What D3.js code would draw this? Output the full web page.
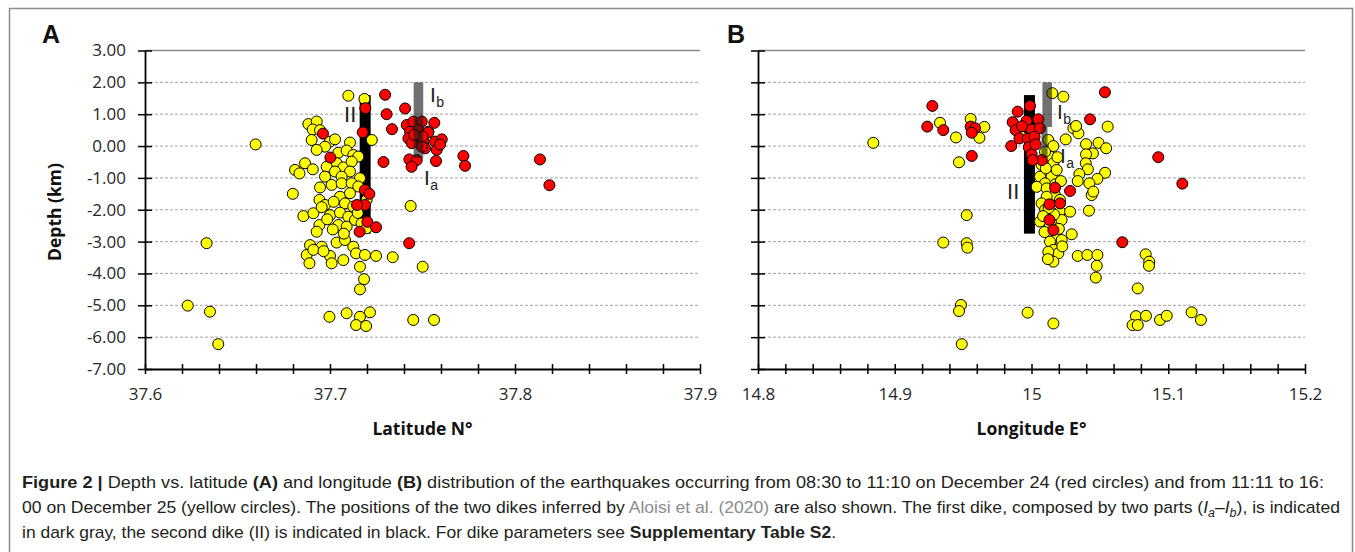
<!DOCTYPE html>
<html><head><meta charset="utf-8">
<script src="https://cdn.jsdelivr.net/npm/d3@7"></script>
<style>body{margin:0;background:#fff;overflow:hidden}</style>
</head><body>
<script>
// ---------- data ----------
const depthTicks = [3, 2, 1, 0, -1, -2, -3, -4, -5, -6, -7];
const latTicks = [37.6, 37.7, 37.8, 37.9];
const lonTicks = [14.8, 14.9, 15.0, 15.1, 15.2];

// Panel A: [latitude, depth]
const redA = [
 [37.7298,1.61],[37.7306,1.00],[37.7406,1.18],[37.7191,1.19],[37.7177,0.43],[37.7335,0.53],[37.6962,0.39],
 [37.7002,-0.36],[37.7289,-0.50],[37.7721,-0.31],[37.7730,-0.62],[37.8135,-0.42],[37.8186,-1.23],
 [37.7189,-1.38],[37.7213,-1.50],[37.7189,-1.85],[37.7146,-1.85],[37.7202,-2.38],[37.7160,-2.69],[37.7249,-2.55],[37.7428,-3.05],
 [37.7415,0.66],[37.7451,0.77],[37.7496,0.77],[37.7564,0.73],[37.7433,0.45],[37.7478,0.50],[37.7532,0.45],
 [37.7424,0.24],[37.7469,0.19],[37.7505,0.14],[37.7568,0.14],[37.7604,0.21],[37.7577,-0.12],[37.7514,-0.07],
 [37.7442,0.09],[37.7496,-0.02],[37.7429,-0.42],[37.7469,-0.44],[37.7441,-0.65],[37.7573,-0.47],[37.7531,0.43],
 [37.7501,0.30],[37.7455,0.35],[37.7595,0.05]
];
const yellowA = [
 [37.6598,0.05],[37.6333,-3.05],[37.6231,-5.01],[37.6351,-5.20],[37.6396,-6.22],
 [37.7099,1.58],[37.7186,1.48],
 [37.6883,0.69],[37.6928,0.77],[37.6907,0.52],[37.6946,0.50],
 [37.7226,0.19],[37.6901,0.19],[37.7000,0.14],[37.7027,0.21],[37.7108,0.11],[37.6973,-0.02],[37.6928,-0.12],
 [37.7045,-0.21],[37.7090,-0.14],[37.7126,-0.28],[37.7153,-0.33],
 [37.6865,-0.54],[37.6907,-0.73],[37.6811,-0.75],[37.6835,-0.86],[37.7036,-0.54],[37.7072,-0.67],[37.7117,-0.49],
 [37.6982,-0.65],[37.7027,-0.80],[37.7108,-0.80],[37.7063,-0.96],[37.7162,-1.01],[37.6973,-0.96],
 [37.6946,-1.30],[37.7009,-1.22],[37.7063,-1.17],[37.7117,-1.17],[37.7153,-1.27],[37.6799,-1.50],
 [37.6943,-1.69],[37.6973,-1.85],[37.7054,-1.59],[37.7108,-1.48],[37.7081,-1.80],[37.7126,-1.90],[37.7198,-1.69],
 [37.6856,-2.20],[37.6910,-2.11],[37.7000,-2.17],[37.7054,-2.09],[37.7099,-2.22],[37.6943,-2.48],[37.6928,-2.69],
 [37.7045,-2.48],[37.7090,-2.53],[37.7135,-2.32],[37.7171,-2.43],[37.7198,-2.58],
 [37.7436,-1.88],
 [37.6892,-3.11],[37.6955,-3.16],[37.6874,-3.42],[37.6910,-3.26],[37.7000,-3.45],[37.7036,-3.03],[37.7081,-2.95],
 [37.7126,-3.16],[37.7009,-3.68],[37.6889,-3.68],[37.7072,-3.58],[37.7141,-3.37],[37.7189,-3.42],[37.7249,-3.45],
 [37.7339,-3.49],[37.7162,-3.79],[37.7501,-3.79],[37.7184,-4.18],[37.7162,-4.50],
 [37.6997,-5.36],[37.7090,-5.25],[37.7162,-5.36],[37.7216,-5.22],[37.7141,-5.62],[37.7195,-5.65],[37.7450,-5.46],[37.7562,-5.46],
 [37.6955,-1.92],[37.7020,-1.75],[37.6985,-2.30],[37.7075,-2.75],[37.7150,-2.10],[37.7015,-2.62],[37.6965,-3.30]
];

// Panel B: [longitude, depth]
const redB = [
 [14.9275,1.26],[14.9238,0.61],[14.9355,0.50],[14.9563,-0.31],[14.9555,0.61],[14.9587,0.56],[14.9563,0.42],
 [14.9989,1.26],[14.9899,1.08],[14.9862,0.75],[14.9964,0.79],[15.0050,0.84],[14.9884,0.50],[15.0001,0.52],
 [15.0062,0.56],[14.9852,0.00],[14.9912,0.24],[14.9973,0.24],[15.0022,0.29],[14.9980,-0.04],[15.0001,-0.26],
 [15.0075,-0.44],[15.0008,-0.44],[14.9930,0.62],[15.0030,0.05],
 [15.0172,-1.31],[15.0282,-1.41],[15.0131,-1.83],[15.0209,-1.80],[15.0131,-2.32],[15.0160,-2.64],
 [15.0537,1.69],[15.0428,0.84],[15.0927,-0.35],[15.1103,-1.18],[15.0664,-3.02]
];
const yellowB = [
 [14.8843,0.10],[14.9331,0.73],[14.9448,0.27],[14.9470,-0.51],[14.9555,0.85],[14.9655,0.60],[14.9619,0.26],
 [14.9526,-2.17],[14.9355,-3.03],[14.9526,-3.05],[14.9531,-3.19],[14.9484,-4.99],[14.9470,-5.18],[14.9972,-5.23],[14.9490,-6.22],
 [15.0440,-1.54],[15.0420,-2.03],[15.0835,-3.40],[15.0861,-3.63],[15.0859,-3.76],[15.0338,-3.45],[15.0408,-3.42],
 [15.0482,-3.42],[15.0477,-3.76],[15.0470,-4.13],[15.0777,-4.47],[15.0160,-5.57],[15.0764,-5.34],[15.0837,-5.33],
 [15.0739,-5.62],[15.0777,-5.62],[15.0940,-5.46],[15.0989,-5.33],[15.1171,-5.22],[15.1239,-5.46],[15.0294,-2.77],
 [15.0152,1.66],[15.0233,1.55],[15.0306,0.56],[15.0343,0.40],[15.0326,0.63],[15.0250,0.21],[15.0557,0.61],
 [15.0399,0.06],[15.0490,0.10],[15.0546,-0.07],[15.0449,-0.23],[15.0399,-0.26],[15.0397,-0.54],[15.0412,-0.73],
 [15.0538,-0.84],[15.0482,-1.03],[15.0423,-1.17],[15.0350,-0.88],[15.0338,-1.10],[15.0452,-1.43],
 [15.0123,0.19],[15.0160,0.00],[15.0135,-0.33],[15.0099,-0.18],[15.0074,-0.59],[15.0160,-0.54],[15.0123,-0.86],
 [15.0062,-0.96],[15.0147,-0.96],[15.0184,-0.75],[15.0099,-1.17],[15.0038,-1.28],[15.0111,-1.33],[15.0172,-1.54],
 [15.0111,-1.59],[15.0074,-1.80],[15.0208,-1.69],[15.0208,-2.06],[15.0184,-2.32],[15.0135,-2.48],[15.0062,-2.37],
 [15.0220,-2.32],[15.0184,-2.90],[15.0135,-3.00],[15.0160,-3.26],[15.0196,-3.37],[15.0123,-3.32],[15.0160,-3.63],
 [15.0221,-2.95],[15.0282,-2.06],[14.9925,0.30],
 [15.0100,-2.00],[15.0165,-2.15],[15.0095,-2.70],[15.0200,-2.60],[15.0125,-1.95],[15.0085,-2.20],[15.0175,-1.20],
 [15.0215,-1.10],[15.0105,-0.70],[15.0190,-0.35],[15.0120,-3.55],[15.0225,-3.15]
];

// Dikes: name, latitude, longitude, top depth, bottom depth
const dikeNames = ["Ib", "Ia", "II"];
const dikeLat = [37.7478, 37.7478, 37.7190];
const dikeLon = [15.0115, 15.0095, 14.9985];
const dikeTop = [2.0, 0.6, 1.6];
const dikeBottom = [0.6, -0.38, -2.75];

// Dike labels: [main, subscript, coordinate, depth]
const labelsA = [["II","",37.7076,0.76],["I","b",37.7540,1.38],["I","a",37.7508,-1.22]];
const labelsB = [["II","",14.9821,-1.66],["I","b",15.0186,0.85],["I","a",15.0208,-0.53]];

// ---------- drawing ----------
const W = 1355, H = 552;
const TICKFONT = "'Open Sans', sans-serif";
const svg = d3.select("body").append("svg").attr("width", W).attr("height", H);

svg.append("rect").attr("x", 9.5).attr("y", 8.5).attr("width", 1343).attr("height", 600)
  .attr("fill", "none").attr("stroke", "#8a8a8a").attr("stroke-width", 1.5);

const y = d3.scaleLinear().domain([-7, 3]).range([369, 50.5]);

function panel(cfg) {
  const x = d3.scaleLinear().domain(cfg.domain).range(cfg.range);
  const g = svg.append("g");
  const [x0, x1] = cfg.range;

  g.selectAll("line.grid").data(depthTicks.filter(d => d > -7)).join("line")
    .attr("x1", x0).attr("x2", x1)
    .attr("y1", d => y(d)).attr("y2", d => y(d))
    .attr("stroke", d => d === 3 ? "#8c8c8c" : "#a3a3a3")
    .attr("stroke-width", d => d === 3 ? 1.6 : 1)
    .attr("stroke-dasharray", d => d === 3 ? null : "3,2");

  const dk = dikeNames.map((n, i) => ({n, c: cfg.dikeCoord[i], t: dikeTop[i], b: dikeBottom[i]}));
  g.selectAll("rect.black").data(dk.filter(d => d.n === "II")).join("rect")
    .attr("x", d => x(d.c) - 5.5).attr("width", 11)
    .attr("y", d => y(d.t)).attr("height", d => y(d.b) - y(d.t))
    .attr("fill", "#000");

  g.selectAll("circle.y").data(cfg.yellow).join("circle")
    .attr("cx", d => x(d[0])).attr("cy", d => y(d[1])).attr("r", 5.5)
    .attr("fill", "#ffff00").attr("stroke", "#000").attr("stroke-width", 1);
  g.selectAll("circle.r").data(cfg.red).join("circle")
    .attr("cx", d => x(d[0])).attr("cy", d => y(d[1])).attr("r", 5.5)
    .attr("fill", "#ff0000").attr("stroke", "#000").attr("stroke-width", 1);

  g.selectAll("rect.gray").data(dk.filter(d => d.n !== "II")).join("rect")
    .attr("x", d => x(d.c) - (d.n === "Ia" && cfg.narrowIa ? 3 : 4.8))
    .attr("width", d => d.n === "Ia" && cfg.narrowIa ? 6 : 9.6)
    .attr("y", d => y(d.t)).attr("height", d => y(d.b) - y(d.t))
    .attr("fill", "#1a1a1a").attr("fill-opacity", 0.62);

  cfg.labels.forEach(l => {
    const t = g.append("text").attr("x", x(l[2])).attr("y", y(l[3]))
      .attr("font-family", "'Liberation Sans', Arial, sans-serif")
      .attr("font-size", l[0] === "II" ? 22 : 21).attr("fill", "#222");
    t.append("tspan").text(l[0]);
    if (l[1]) t.append("tspan").attr("dy", 5).attr("dx", 0.5).attr("font-size", 14).text(l[1]);
  });

  const ya = d3.axisLeft(y).tickValues(depthTicks).tickSizeInner(7).tickSizeOuter(0).tickPadding(12)
    .tickFormat(d => cfg.yLabels ? d.toFixed(2) : "");
  const yg = g.append("g").attr("transform", `translate(${x0},0)`).call(ya);
  yg.selectAll(".tick line").attr("x1", 7).attr("stroke-width", 1.5);
  yg.select(".domain").attr("stroke-width", 1.8);
  yg.selectAll("text").attr("font-family", TICKFONT).attr("font-size", 17).attr("fill", "#262626");

  const minor = x.ticks(cfg.nMinor);
  const xa = d3.axisBottom(x).tickValues(minor).tickSizeInner(5).tickSizeOuter(0).tickPadding(14)
    .tickFormat(d => cfg.majors.some(m => Math.abs(m - d) < 1e-9) ? String(+d.toFixed(1)) : "");
  const xg = g.append("g").attr("transform", `translate(0,${y(-7)})`).call(xa);
  xg.selectAll(".tick line").attr("y1", -5).attr("stroke-width", 1.5);
  xg.select(".domain").attr("stroke-width", 1.8);
  xg.selectAll("text").attr("font-family", TICKFONT).attr("font-size", 17).attr("fill", "#262626");

  g.append("text").attr("x", (x0 + x1) / 2).attr("y", 435).attr("text-anchor", "middle")
    .attr("font-family", TICKFONT).attr("font-weight", "bold").attr("font-size", 17.5)
    .attr("fill", "#111").text(cfg.title);

  g.append("text").attr("x", cfg.letterX).attr("y", 43)
    .attr("font-family", "'Liberation Sans', Arial, sans-serif").attr("font-weight", "bold")
    .attr("font-size", 25).attr("fill", "#111").text(cfg.letter);
}

panel({domain: [37.6, 37.9], range: [145, 700], red: redA, yellow: yellowA, dikeCoord: dikeLat,
  labels: labelsA, yLabels: true, nMinor: 15, majors: latTicks, title: "Latitude N°", letter: "A", letterX: 42, narrowIa: false});
panel({domain: [14.8, 15.2], range: [758, 1305], red: redB, yellow: yellowB, dikeCoord: dikeLon,
  labels: labelsB, yLabels: false, nMinor: 20, majors: lonTicks, title: "Longitude E°", letter: "B", letterX: 727, narrowIa: true});

svg.append("text").attr("transform", "translate(61,212) rotate(-90)").attr("text-anchor", "middle")
  .attr("font-family", TICKFONT).attr("font-weight", "bold").attr("font-size", 17.5)
  .attr("fill", "#111").text("Depth (km)");

// ---------- caption ----------
const CAP = "'Liberation Sans Narrow', 'Liberation Sans', Arial, sans-serif";
const capLines = [
  {y: 488, len: 1302, parts: [["Figure 2 | ", "b"], ["Depth vs. latitude ", ""], ["(A)", "b"], [" and longitude ", ""], ["(B)", "b"],
    [" distribution of the earthquakes occurring from 08:30 to 11:10 on December 24 (red circles) and from 11:11 to 16:", ""]]},
  {y: 513, len: 1318, parts: [["00 on December 25 (yellow circles). The positions of the two dikes inferred by ", ""], ["Aloisi et al. (2020)", "g"],
    [" are also shown. The first dike, composed by two parts (", ""], ["I", "i"], ["a", "si"], ["–", ""], ["I", "i"], ["b", "si"], ["), is indicated", ""]]},
  {y: 538, len: 814, parts: [["in dark gray, the second dike (II) is indicated in black. For dike parameters see ", ""], ["Supplementary Table S2", "b"], [".", ""]]}
];
capLines.forEach(L => {
  const t = svg.append("text").attr("x", 22).attr("y", L.y).attr("font-family", CAP).attr("font-size", 17)
    .attr("fill", "#231f20").attr("textLength", L.len).attr("lengthAdjust", "spacingAndGlyphs");
  L.parts.forEach(p => {
    const s = t.append("tspan").text(p[0]);
    if (p[1] === "b") s.attr("font-weight", "bold");
    if (p[1] === "g") s.attr("fill", "#8c8c8c");
    if (p[1] === "i") s.attr("font-style", "italic");
    if (p[1] === "si") s.attr("font-style", "italic").attr("font-size", 12).attr("dy", 4);
  });
  t.selectAll("tspan").each(function(d, i, nodes) {
    const prev = i > 0 ? nodes[i - 1] : null;
    if (prev && prev.getAttribute("dy") === "4" && this.getAttribute("dy") !== "4") d3.select(this).attr("dy", -4);
  });
});
</script>
</body></html>
